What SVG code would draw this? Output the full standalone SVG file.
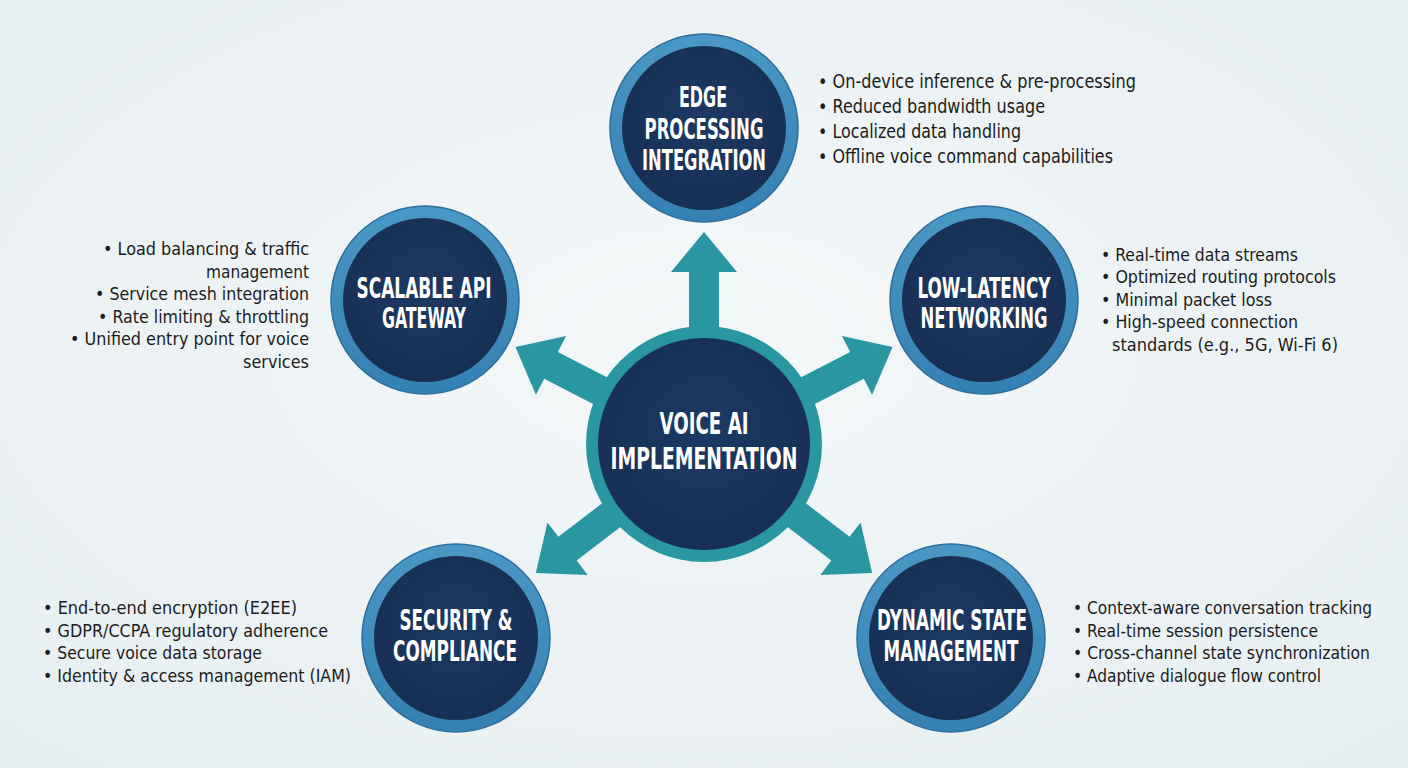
<svg xmlns="http://www.w3.org/2000/svg" width="1408" height="768" viewBox="0 0 1408 768">
  <defs>
    <radialGradient id="bg" cx="50%" cy="45%" r="75%">
      <stop offset="0" stop-color="#f3f7f8"/>
      <stop offset="1" stop-color="#e6eef1"/>
    </radialGradient>
    <linearGradient id="ring" x1="0" y1="0" x2="0" y2="1">
      <stop offset="0" stop-color="#4a98c6"/>
      <stop offset="1" stop-color="#3580b2"/>
    </linearGradient>
    <radialGradient id="core" cx="50%" cy="45%" r="60%">
      <stop offset="0" stop-color="#1d3a63"/>
      <stop offset="1" stop-color="#172e52"/>
    </radialGradient>
    <path id="arrow" d="M-15,-100 L-15,-172 L-33,-172 L0,-212 L33,-172 L15,-172 L15,-100 Z"/>
  </defs>
  <style>
    .ring { fill: url(#ring); stroke: #2e6f9c; stroke-width: 1.5; }
    .core { fill: url(#core); }
    .title { fill: #ffffff; font-family: "Liberation Sans Narrow", "DejaVu Sans Condensed", "Liberation Sans", sans-serif; font-weight: bold; font-size: 28px; text-anchor: middle; }
    .ctitle { font-size: 31px; }
    .bul { fill: #1c1c1c; font-family: "Liberation Sans Narrow", "DejaVu Sans Condensed", "Liberation Sans", sans-serif; font-size: 18px; }
    .big { font-size: 19.5px; }
    .arrow { fill: #2a96a2; }
  </style>

  <rect width="1408" height="768" fill="url(#bg)"/>

  <g id="connectors">
    <use href="#arrow" class="arrow" transform="translate(704,444)"/>
    <use href="#arrow" class="arrow" transform="translate(704,444) rotate(62.8)"/>
    <use href="#arrow" class="arrow" transform="translate(704,444) rotate(-62.8)"/>
    <use href="#arrow" class="arrow" transform="translate(704,444) rotate(127.5)"/>
    <use href="#arrow" class="arrow" transform="translate(704,444) rotate(-127.5)"/>
  </g>

  <g id="node-center">
    <circle cx="704" cy="444" r="118" fill="#2a96a2"/>
    <circle cx="704" cy="444" r="106" class="core"/>
    <text class="title ctitle" x="704" y="434" textLength="89" lengthAdjust="spacingAndGlyphs">VOICE AI</text>
    <text class="title ctitle" x="704" y="469" textLength="187" lengthAdjust="spacingAndGlyphs">IMPLEMENTATION</text>
  </g>

  <g id="node-edge">
    <circle cx="704" cy="128" r="94" class="ring"/>
    <circle cx="704" cy="128" r="82" class="core"/>
    <text class="title" x="703" y="107" textLength="48" lengthAdjust="spacingAndGlyphs">EDGE</text>
    <text class="title" x="704" y="139" textLength="119" lengthAdjust="spacingAndGlyphs">PROCESSING</text>
    <text class="title" x="704" y="170" textLength="124" lengthAdjust="spacingAndGlyphs">INTEGRATION</text>
  </g>
  <g id="text-edge" class="bul big">
    <text x="818" y="88" textLength="318" lengthAdjust="spacingAndGlyphs">• On-device inference &amp; pre-processing</text>
    <text x="818" y="113" textLength="227" lengthAdjust="spacingAndGlyphs">• Reduced bandwidth usage</text>
    <text x="818" y="138" textLength="203" lengthAdjust="spacingAndGlyphs">• Localized data handling</text>
    <text x="818" y="163" textLength="295" lengthAdjust="spacingAndGlyphs">• Offline voice command capabilities</text>
  </g>

  <g id="node-gateway">
    <circle cx="425" cy="300" r="94" class="ring"/>
    <circle cx="425" cy="300" r="82" class="core"/>
    <text class="title" x="424" y="298" textLength="135" lengthAdjust="spacingAndGlyphs">SCALABLE API</text>
    <text class="title" x="424" y="328" textLength="84" lengthAdjust="spacingAndGlyphs">GATEWAY</text>
  </g>
  <g id="text-gateway" class="bul">
    <text x="103" y="255" textLength="206" lengthAdjust="spacingAndGlyphs">• Load balancing &amp; traffic</text>
    <text x="206" y="278" textLength="103" lengthAdjust="spacingAndGlyphs">management</text>
    <text x="95" y="300" textLength="214" lengthAdjust="spacingAndGlyphs">• Service mesh integration</text>
    <text x="98" y="323" textLength="211" lengthAdjust="spacingAndGlyphs">• Rate limiting &amp; throttling</text>
    <text x="70" y="345" textLength="239" lengthAdjust="spacingAndGlyphs">• Unified entry point for voice</text>
    <text x="243" y="368" textLength="66" lengthAdjust="spacingAndGlyphs">services</text>
  </g>

  <g id="node-network">
    <circle cx="984" cy="300" r="94" class="ring"/>
    <circle cx="984" cy="300" r="82" class="core"/>
    <text class="title" x="984" y="298" textLength="133" lengthAdjust="spacingAndGlyphs">LOW-LATENCY</text>
    <text class="title" x="984" y="328" textLength="127" lengthAdjust="spacingAndGlyphs">NETWORKING</text>
  </g>
  <g id="text-network" class="bul">
    <text x="1101" y="261" textLength="197" lengthAdjust="spacingAndGlyphs">• Real-time data streams</text>
    <text x="1101" y="283" textLength="235" lengthAdjust="spacingAndGlyphs">• Optimized routing protocols</text>
    <text x="1101" y="306" textLength="171" lengthAdjust="spacingAndGlyphs">• Minimal packet loss</text>
    <text x="1101" y="328" textLength="197" lengthAdjust="spacingAndGlyphs">• High-speed connection</text>
    <text x="1112" y="351" textLength="226" lengthAdjust="spacingAndGlyphs">standards (e.g., 5G, Wi-Fi 6)</text>
  </g>

  <g id="node-security">
    <circle cx="456" cy="638" r="94" class="ring"/>
    <circle cx="456" cy="638" r="82" class="core"/>
    <text class="title" x="456" y="630" textLength="113" lengthAdjust="spacingAndGlyphs">SECURITY &amp;</text>
    <text class="title" x="455" y="661" textLength="124" lengthAdjust="spacingAndGlyphs">COMPLIANCE</text>
  </g>
  <g id="text-security" class="bul">
    <text x="43" y="614" textLength="254" lengthAdjust="spacingAndGlyphs">• End-to-end encryption (E2EE)</text>
    <text x="43" y="637" textLength="285" lengthAdjust="spacingAndGlyphs">• GDPR/CCPA regulatory adherence</text>
    <text x="43" y="659" textLength="219" lengthAdjust="spacingAndGlyphs">• Secure voice data storage</text>
    <text x="43" y="682" textLength="308" lengthAdjust="spacingAndGlyphs">• Identity &amp; access management (IAM)</text>
  </g>

  <g id="node-state">
    <circle cx="951" cy="638" r="94" class="ring"/>
    <circle cx="951" cy="638" r="82" class="core"/>
    <text class="title" x="952" y="630" textLength="150" lengthAdjust="spacingAndGlyphs">DYNAMIC STATE</text>
    <text class="title" x="951" y="661" textLength="135" lengthAdjust="spacingAndGlyphs">MANAGEMENT</text>
  </g>
  <g id="text-state" class="bul">
    <text x="1073" y="614" textLength="299" lengthAdjust="spacingAndGlyphs">• Context-aware conversation tracking</text>
    <text x="1073" y="637" textLength="245" lengthAdjust="spacingAndGlyphs">• Real-time session persistence</text>
    <text x="1073" y="659" textLength="297" lengthAdjust="spacingAndGlyphs">• Cross-channel state synchronization</text>
    <text x="1073" y="682" textLength="248" lengthAdjust="spacingAndGlyphs">• Adaptive dialogue flow control</text>
  </g>
</svg>
